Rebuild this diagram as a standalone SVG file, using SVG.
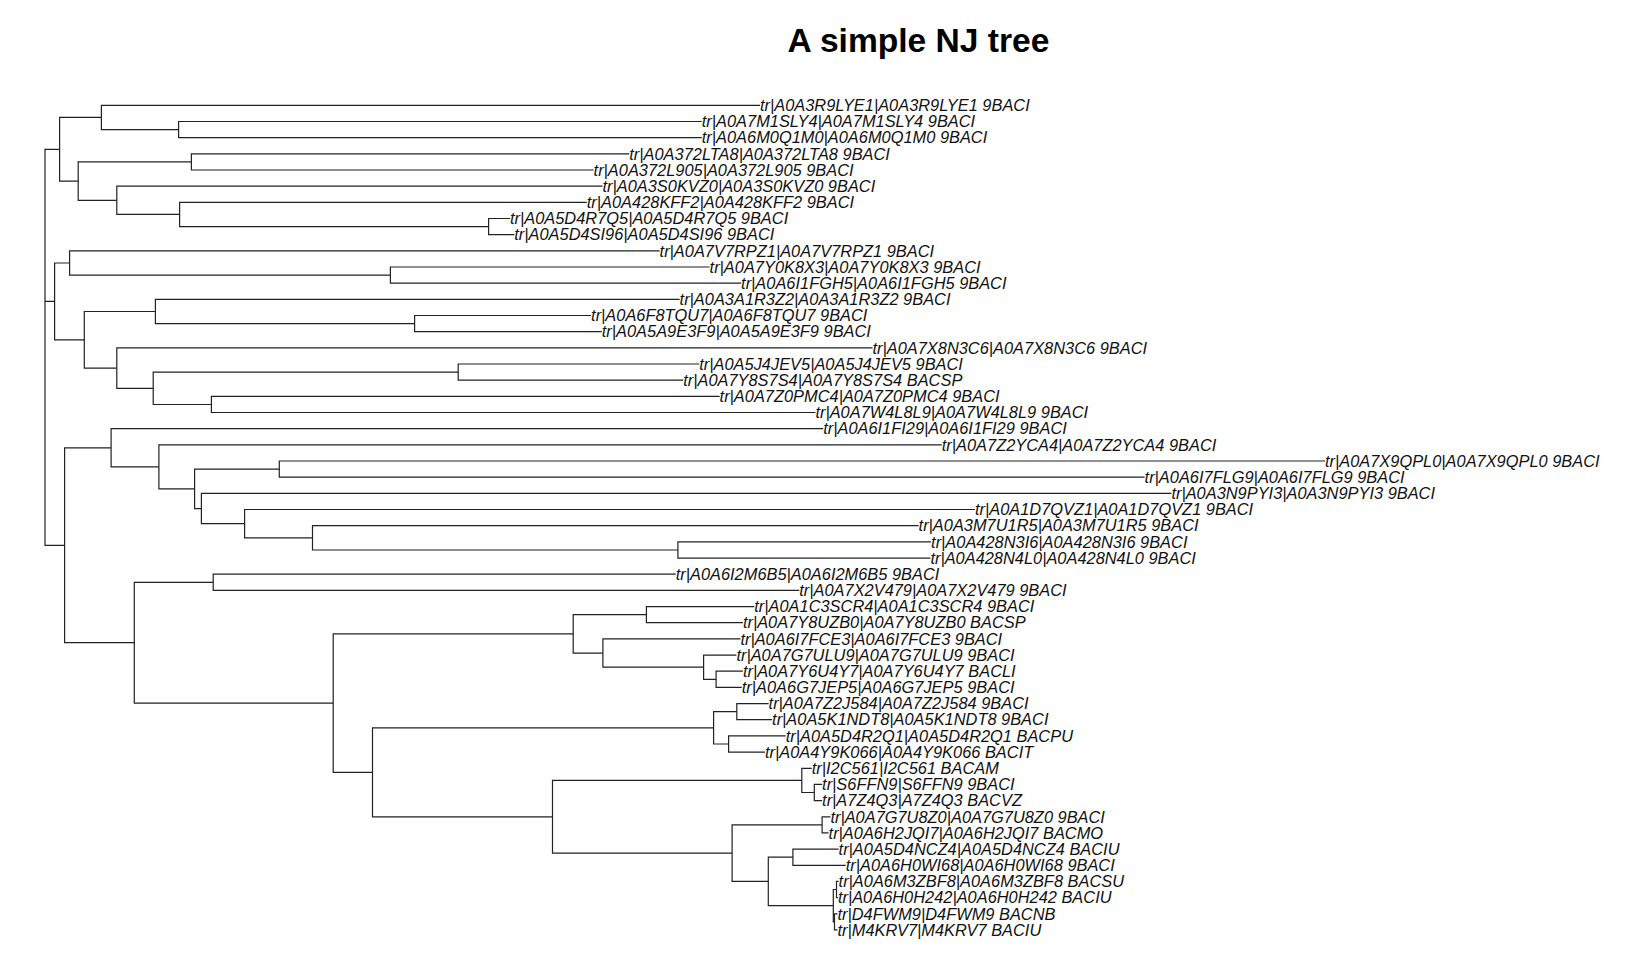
<svg xmlns="http://www.w3.org/2000/svg" width="1651" height="964" viewBox="0 0 1651 964">
<style>
.t{font-family:"Liberation Sans",Arial,sans-serif;font-style:italic;font-size:16.4px;fill:#111}
.title{font-family:"Liberation Sans",Arial,sans-serif;font-weight:bold;font-size:33.6px;fill:#000}
.e{fill:none;stroke:#222;stroke-width:1.2}
</style>
<rect width="1651" height="964" fill="#fff"/>
<text id="title" class="title" x="918.5" y="51.7" text-anchor="middle">A simple NJ tree</text>
<g id="connectors">
<path class="e" d="M59.6 149.3 H45 V545.3 H64.6 M45 301.4 H54.6"/>
<path class="e" d="M101.4 117.4 H59.6 V181.1 H78.2"/>
<path class="e" d="M760 105.3 H101.4 V129.55 H178.6"/>
<path class="e" d="M701.8 121.5 H178.6 V137.6 H701.8"/>
<path class="e" d="M191.4 161.9 H78.2 V200.3 H116.8"/>
<path class="e" d="M629.3 153.8 H191.4 V170 H593.6"/>
<path class="e" d="M602.5 186.2 H116.8 V214.45 H179.6"/>
<path class="e" d="M586.8 202.3 H179.6 V226.6 H488.6"/>
<path class="e" d="M510 218.5 H488.6 V234.7 H514.3"/>
<path class="e" d="M69.6 263 H54.6 V339.8 H84.3"/>
<path class="e" d="M659.6 250.8 H69.6 V275.1 H390.4"/>
<path class="e" d="M709.6 267 H390.4 V283.2 H741.1"/>
<path class="e" d="M155.4 311.5 H84.3 V368.1 H116.8"/>
<path class="e" d="M679.6 299.3 H155.4 V323.6 H414.6"/>
<path class="e" d="M591.1 315.5 H414.6 V331.7 H601.8"/>
<path class="e" d="M872.5 347.9 H116.8 V388.3 H153.2"/>
<path class="e" d="M458.2 372.1 H153.2 V404.5 H211.4"/>
<path class="e" d="M699.3 364 H458.2 V380.2 H683.2"/>
<path class="e" d="M719.6 396.4 H211.4 V412.5 H815.4"/>
<path class="e" d="M111.1 447.8 H64.6 V642.7 H134.3"/>
<path class="e" d="M823.2 428.7 H111.1 V466.9 H158.9"/>
<path class="e" d="M941.8 444.9 H158.9 V488.9 H194.6"/>
<path class="e" d="M279.3 469.1 H194.6 V508.6 H201.4"/>
<path class="e" d="M1325 461 H279.3 V477.2 H1144.6"/>
<path class="e" d="M1171.4 493.4 H201.4 V523.7 H244.6"/>
<path class="e" d="M975 509.5 H244.6 V537.9 H312.5"/>
<path class="e" d="M918.6 525.7 H312.5 V550 H677.9"/>
<path class="e" d="M931.1 541.9 H677.9 V558.1 H930.4"/>
<path class="e" d="M213.2 582.3 H134.3 V703.1 H333.2"/>
<path class="e" d="M675.7 574.2 H213.2 V590.4 H799.3"/>
<path class="e" d="M573.2 633.9 H333.2 V772.3 H372.5"/>
<path class="e" d="M646.4 614.7 H573.2 V653.1 H602.9"/>
<path class="e" d="M754.3 606.6 H646.4 V622.7 H742.9"/>
<path class="e" d="M740.4 638.9 H602.9 V667.2 H703.6"/>
<path class="e" d="M736.4 655.1 H703.6 V679.3 H716.1"/>
<path class="e" d="M742.9 671.2 H716.1 V687.4 H741.8"/>
<path class="e" d="M713.6 727.8 H372.5 V816.8 H552.5"/>
<path class="e" d="M736.8 711.7 H713.6 V744 H728.6"/>
<path class="e" d="M768.6 703.6 H736.8 V719.7 H772.1"/>
<path class="e" d="M785.7 735.9 H728.6 V752.1 H765"/>
<path class="e" d="M801.8 780.4 H552.5 V853.2 H732.1"/>
<path class="e" d="M811.8 768.3 H801.8 V792.5 H814.3"/>
<path class="e" d="M822.1 784.4 H814.3 V800.6 H822.1"/>
<path class="e" d="M822.1 824.9 H732.1 V881.4 H768.3"/>
<path class="e" d="M830.4 816.8 H822.1 V832.9 H828.6"/>
<path class="e" d="M792.9 857.2 H768.3 V905.65 H833.3"/>
<path class="e" d="M838.6 849.1 H792.9 V865.3 H845.7"/>
<path class="e" d="M836.5 889.5 H833.3 V921.9 H834.5"/>
<path class="e" d="M838.6 881.4 H836.5 V897.6 H837.9"/>
<path class="e" d="M837.5 913.8 H834.5 V929.9 H837.5"/>
</g>
<g id="leaf1"><text class="t" x="760" y="111">tr|A0A3R9LYE1|A0A3R9LYE1 9BACI</text></g>
<g id="leaf2"><text class="t" x="701.8" y="127.2">tr|A0A7M1SLY4|A0A7M1SLY4 9BACI</text></g>
<g id="leaf3"><text class="t" x="701.8" y="143.3">tr|A0A6M0Q1M0|A0A6M0Q1M0 9BACI</text></g>
<g id="leaf4"><text class="t" x="629.3" y="159.5">tr|A0A372LTA8|A0A372LTA8 9BACI</text></g>
<g id="leaf5"><text class="t" x="593.6" y="175.7">tr|A0A372L905|A0A372L905 9BACI</text></g>
<g id="leaf6"><text class="t" x="602.5" y="191.9">tr|A0A3S0KVZ0|A0A3S0KVZ0 9BACI</text></g>
<g id="leaf7"><text class="t" x="586.8" y="208">tr|A0A428KFF2|A0A428KFF2 9BACI</text></g>
<g id="leaf8"><text class="t" x="510" y="224.2">tr|A0A5D4R7Q5|A0A5D4R7Q5 9BACI</text></g>
<g id="leaf9"><text class="t" x="514.3" y="240.4">tr|A0A5D4SI96|A0A5D4SI96 9BACI</text></g>
<g id="leaf10"><text class="t" x="659.6" y="256.5">tr|A0A7V7RPZ1|A0A7V7RPZ1 9BACI</text></g>
<g id="leaf11"><text class="t" x="709.6" y="272.7">tr|A0A7Y0K8X3|A0A7Y0K8X3 9BACI</text></g>
<g id="leaf12"><text class="t" x="741.1" y="288.9">tr|A0A6I1FGH5|A0A6I1FGH5 9BACI</text></g>
<g id="leaf13"><text class="t" x="679.6" y="305">tr|A0A3A1R3Z2|A0A3A1R3Z2 9BACI</text></g>
<g id="leaf14"><text class="t" x="591.1" y="321.2">tr|A0A6F8TQU7|A0A6F8TQU7 9BACI</text></g>
<g id="leaf15"><text class="t" x="601.8" y="337.4">tr|A0A5A9E3F9|A0A5A9E3F9 9BACI</text></g>
<g id="leaf16"><text class="t" x="872.5" y="353.6">tr|A0A7X8N3C6|A0A7X8N3C6 9BACI</text></g>
<g id="leaf17"><text class="t" x="699.3" y="369.7">tr|A0A5J4JEV5|A0A5J4JEV5 9BACI</text></g>
<g id="leaf18"><text class="t" x="683.2" y="385.9">tr|A0A7Y8S7S4|A0A7Y8S7S4 BACSP</text></g>
<g id="leaf19"><text class="t" x="719.6" y="402.1">tr|A0A7Z0PMC4|A0A7Z0PMC4 9BACI</text></g>
<g id="leaf20"><text class="t" x="815.4" y="418.2">tr|A0A7W4L8L9|A0A7W4L8L9 9BACI</text></g>
<g id="leaf21"><text class="t" x="823.2" y="434.4">tr|A0A6I1FI29|A0A6I1FI29 9BACI</text></g>
<g id="leaf22"><text class="t" x="941.8" y="450.6">tr|A0A7Z2YCA4|A0A7Z2YCA4 9BACI</text></g>
<g id="leaf23"><text class="t" x="1325" y="466.7">tr|A0A7X9QPL0|A0A7X9QPL0 9BACI</text></g>
<g id="leaf24"><text class="t" x="1144.6" y="482.9">tr|A0A6I7FLG9|A0A6I7FLG9 9BACI</text></g>
<g id="leaf25"><text class="t" x="1171.4" y="499.1">tr|A0A3N9PYI3|A0A3N9PYI3 9BACI</text></g>
<g id="leaf26"><text class="t" x="975" y="515.2">tr|A0A1D7QVZ1|A0A1D7QVZ1 9BACI</text></g>
<g id="leaf27"><text class="t" x="918.6" y="531.4">tr|A0A3M7U1R5|A0A3M7U1R5 9BACI</text></g>
<g id="leaf28"><text class="t" x="931.1" y="547.6">tr|A0A428N3I6|A0A428N3I6 9BACI</text></g>
<g id="leaf29"><text class="t" x="930.4" y="563.8">tr|A0A428N4L0|A0A428N4L0 9BACI</text></g>
<g id="leaf30"><text class="t" x="675.7" y="579.9">tr|A0A6I2M6B5|A0A6I2M6B5 9BACI</text></g>
<g id="leaf31"><text class="t" x="799.3" y="596.1">tr|A0A7X2V479|A0A7X2V479 9BACI</text></g>
<g id="leaf32"><text class="t" x="754.3" y="612.3">tr|A0A1C3SCR4|A0A1C3SCR4 9BACI</text></g>
<g id="leaf33"><text class="t" x="742.9" y="628.4">tr|A0A7Y8UZB0|A0A7Y8UZB0 BACSP</text></g>
<g id="leaf34"><text class="t" x="740.4" y="644.6">tr|A0A6I7FCE3|A0A6I7FCE3 9BACI</text></g>
<g id="leaf35"><text class="t" x="736.4" y="660.8">tr|A0A7G7ULU9|A0A7G7ULU9 9BACI</text></g>
<g id="leaf36"><text class="t" x="742.9" y="676.9">tr|A0A7Y6U4Y7|A0A7Y6U4Y7 BACLI</text></g>
<g id="leaf37"><text class="t" x="741.8" y="693.1">tr|A0A6G7JEP5|A0A6G7JEP5 9BACI</text></g>
<g id="leaf38"><text class="t" x="768.6" y="709.3">tr|A0A7Z2J584|A0A7Z2J584 9BACI</text></g>
<g id="leaf39"><text class="t" x="772.1" y="725.4">tr|A0A5K1NDT8|A0A5K1NDT8 9BACI</text></g>
<g id="leaf40"><text class="t" x="785.7" y="741.6">tr|A0A5D4R2Q1|A0A5D4R2Q1 BACPU</text></g>
<g id="leaf41"><text class="t" x="765" y="757.8">tr|A0A4Y9K066|A0A4Y9K066 BACIT</text></g>
<g id="leaf42"><text class="t" x="811.8" y="774">tr|I2C561|I2C561 BACAM</text></g>
<g id="leaf43"><text class="t" x="822.1" y="790.1">tr|S6FFN9|S6FFN9 9BACI</text></g>
<g id="leaf44"><text class="t" x="822.1" y="806.3">tr|A7Z4Q3|A7Z4Q3 BACVZ</text></g>
<g id="leaf45"><text class="t" x="830.4" y="822.5">tr|A0A7G7U8Z0|A0A7G7U8Z0 9BACI</text></g>
<g id="leaf46"><text class="t" x="828.6" y="838.6">tr|A0A6H2JQI7|A0A6H2JQI7 BACMO</text></g>
<g id="leaf47"><text class="t" x="838.6" y="854.8">tr|A0A5D4NCZ4|A0A5D4NCZ4 BACIU</text></g>
<g id="leaf48"><text class="t" x="845.7" y="871">tr|A0A6H0WI68|A0A6H0WI68 9BACI</text></g>
<g id="leaf49"><text class="t" x="838.6" y="887.1">tr|A0A6M3ZBF8|A0A6M3ZBF8 BACSU</text></g>
<g id="leaf50"><text class="t" x="837.9" y="903.3">tr|A0A6H0H242|A0A6H0H242 BACIU</text></g>
<g id="leaf51"><text class="t" x="837.5" y="919.5">tr|D4FWM9|D4FWM9 BACNB</text></g>
<g id="leaf52"><text class="t" x="837.5" y="935.6">tr|M4KRV7|M4KRV7 BACIU</text></g>
</svg>
